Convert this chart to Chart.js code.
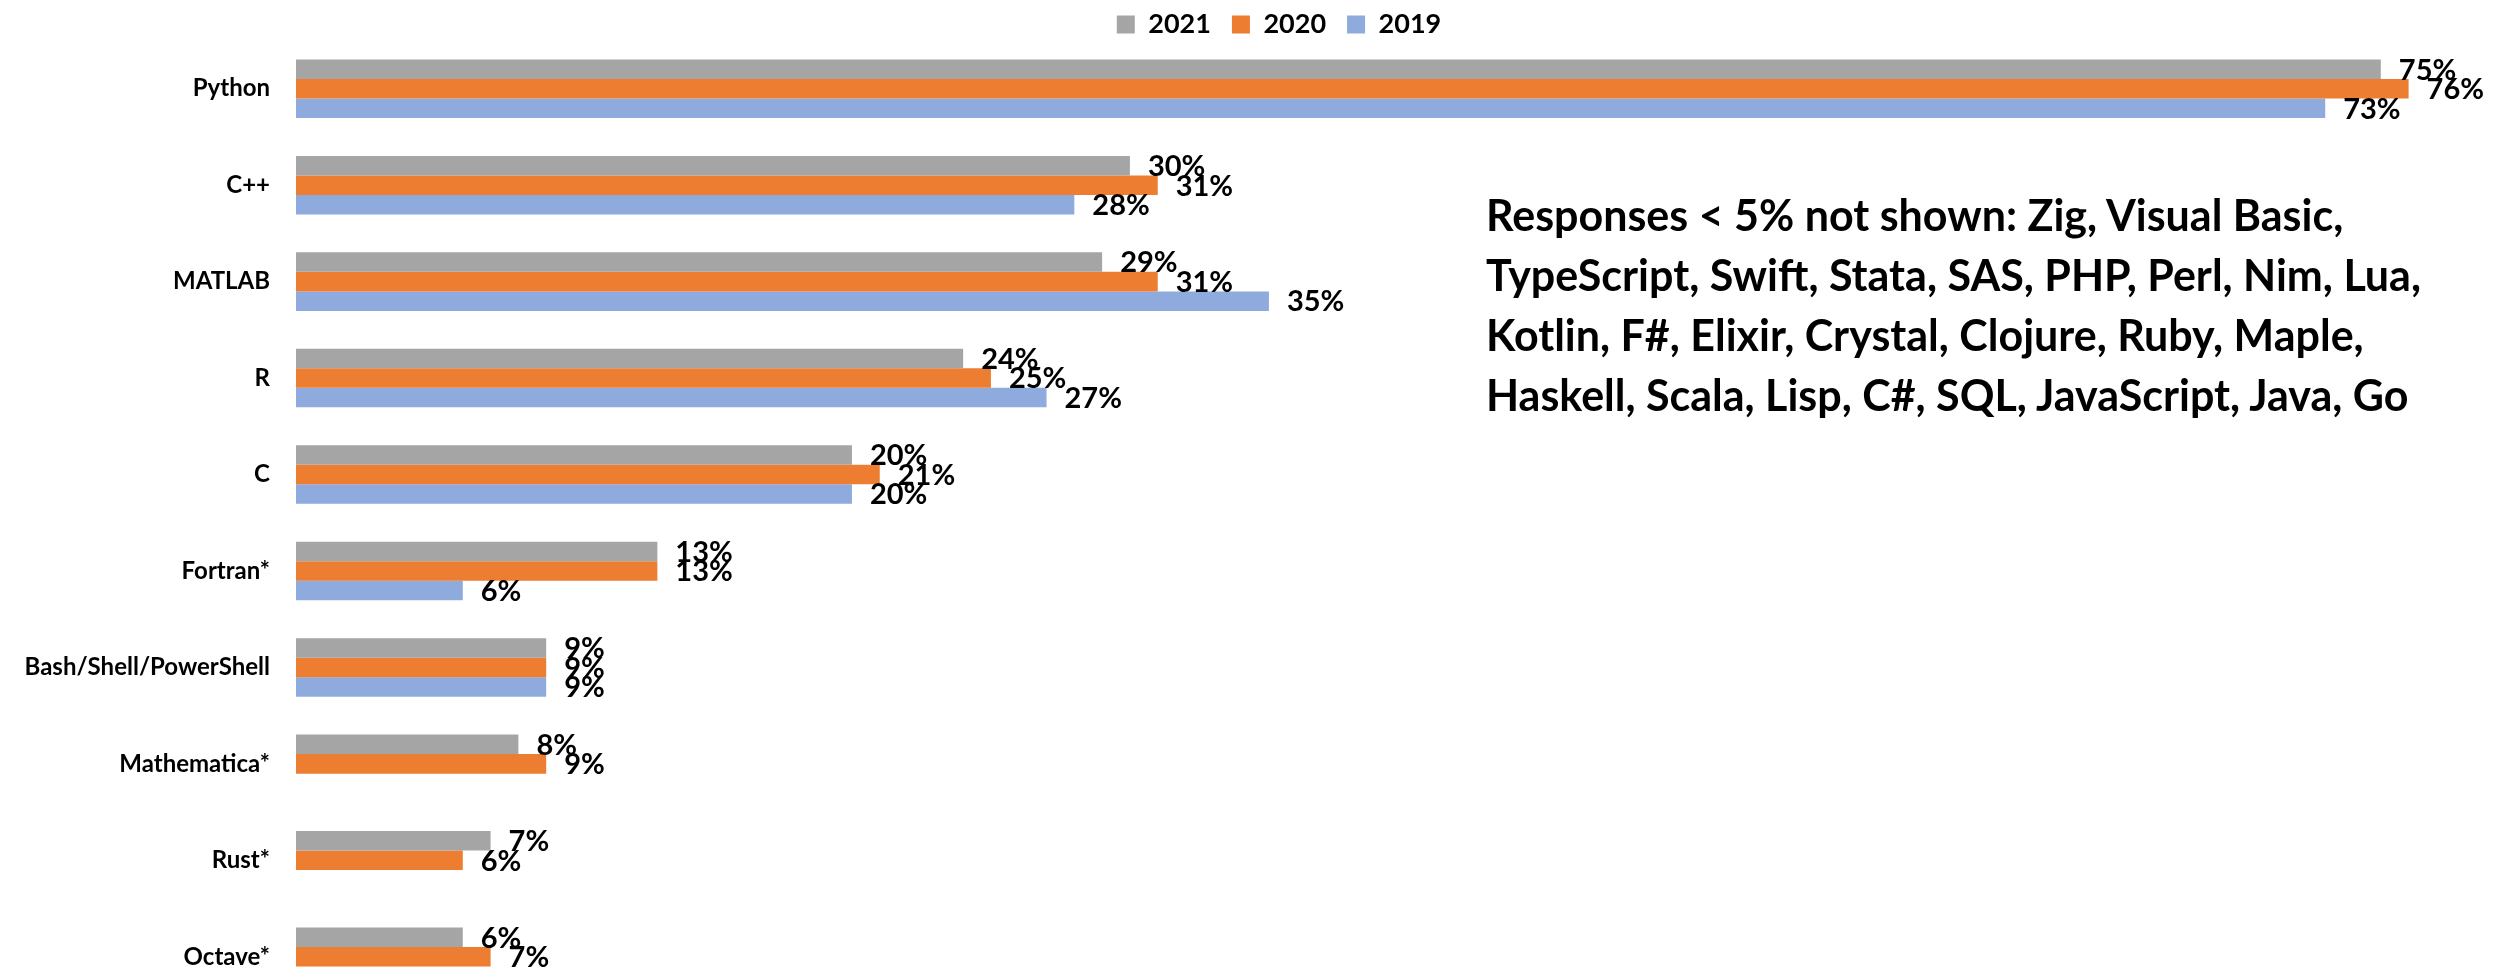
<!DOCTYPE html>
<html>
<head>
<meta charset="utf-8">
<script src="https://cdn.jsdelivr.net/npm/chart.js@4/dist/chart.umd.min.js"></script>
<style>
  html, body { margin: 0; padding: 0; background: #fff; overflow: hidden; }
  #wrap { position: relative; width: 2506px; height: 1010px; }
  #note {
    position: absolute; left: 1486px; top: 185px;
    font: bold 43px Lato, sans-serif; line-height: 60px; color: #000;
    white-space: nowrap;
  }
</style>
</head>
<body>
<div id="wrap">
  <canvas id="chartLangs"></canvas>
  <div id="note">Responses &lt; 5% not shown: Zig, Visual Basic,<br>TypeScript, Swift, Stata, SAS, PHP, Perl, Nim, Lua,<br>Kotlin, F#, Elixir, Crystal, Clojure, Ruby, Maple,<br>Haskell, Scala, Lisp, C#, SQL, JavaScript, Java, Go</div>
</div>
<script>
const languages = ['Python', 'C++', 'MATLAB', 'R', 'C', 'Fortran*', 'Bash/Shell/PowerShell', 'Mathematica*', 'Rust*', 'Octave*'];
const years = ['2021', '2020', '2019'];
const share2021 = [75, 30, 29, 24, 20, 13, 9, 8, 7, 6];
const share2020 = [76, 31, 31, 25, 21, 13, 9, 9, 6, 7];
const share2019 = [73, 28, 35, 27, 20, 6, 9, null, null, null];
const colors = ['#A5A5A5', '#ED7D31', '#8FAADC'];

const FONT = 'Lato, sans-serif';

// bold percentage next to each bar end
const valueLabels = {
  id: 'valueLabels',
  afterDatasetsDraw(chart) {
    const { ctx } = chart;
    ctx.save();
    ctx.font = `bold 29px ${FONT}`;
    ctx.fillStyle = '#000';
    ctx.textAlign = 'left';
    ctx.textBaseline = 'middle';
    chart.data.datasets.forEach((ds, i) => {
      const meta = chart.getDatasetMeta(i);
      meta.data.forEach((bar, j) => {
        const v = ds.data[j];
        if (v === null || v === undefined) return;
        ctx.fillText(`${v}%`, bar.x + 18, bar.y + 1);
      });
    });
    ctx.restore();
  },
};

// legend keeps wide item spacing but takes less room above the bars,
// and sits a little right of the page centre like the original
const legendFit = {
  id: 'legendFit',
  beforeUpdate(chart) {
    const legend = chart.legend;
    if (!legend || legend._trimmed) return;
    const fit = legend.fit;
    legend.fit = function () {
      fit.call(this);
      this.height -= 7.5;
    };
    legend._trimmed = true;
  },
  afterLayout(chart) {
    chart.legend.left += 33;
    chart.legend.right += 33;
  },
};

const canvas = document.getElementById('chartLangs');

new Chart(canvas, {
  type: 'bar',
  data: {
    labels: languages,
    datasets: [share2021, share2020, share2019].map((data, i) => ({
      label: years[i],
      data,
      backgroundColor: colors[i],
      categoryPercentage: 0.607,
      barPercentage: 1,
    })),
  },
  options: {
    indexAxis: 'y',
    responsive: true,
    maintainAspectRatio: false,
    animation: false,
    layout: { padding: { left: 0, right: 14, top: -10, bottom: 5 } },
    plugins: {
      legend: {
        display: true,
        position: 'top',
        labels: {
          boxWidth: 18,
          boxHeight: 18,
          padding: 21,
          color: '#000',
          font: { family: FONT, size: 27, weight: 'bold' },
        },
      },
      tooltip: { enabled: false },
    },
    scales: {
      x: {
        display: false,
        min: 0,
        max: 79,
      },
      y: {
        grid: { display: false, drawTicks: false },
        border: { display: false },
        ticks: {
          autoSkip: false,
          padding: 26,
          color: '#000',
          font: { family: FONT, size: 24, weight: 'bold' },
        },
        afterFit(scale) {
          scale.width = 296;
          scale.paddingTop = 0;
          scale.paddingBottom = 0;
        },
      },
    },
  },
  plugins: [valueLabels, legendFit],
});
</script>
</body>
</html>
